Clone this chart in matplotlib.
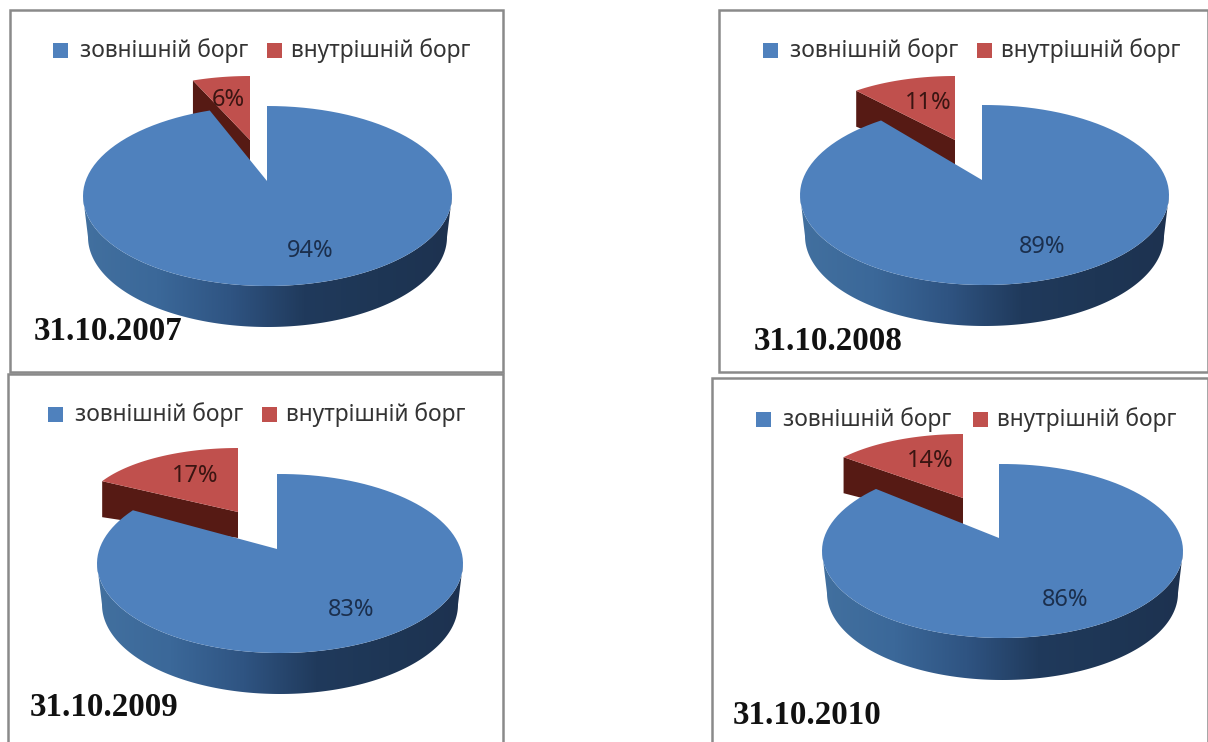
import numpy as np
import matplotlib
matplotlib.use('Agg')
import matplotlib.pyplot as plt
from matplotlib.colors import LinearSegmentedColormap
from matplotlib.patches import Polygon, Rectangle

# data
dates = ['31.10.2007', '31.10.2008', '31.10.2009', '31.10.2010']
external_debt = [94, 89, 83, 86]
internal_debt = [6, 11, 17, 14]
series_names = ['зовнішній борг', 'внутрішній борг']

# layout, in pixels of the 1208x742 picture
frames = [(10, 10, 503, 372), (719, 10, 1208, 372), (8, 374, 503, 745), (712, 378, 1208, 745)]
# ellipse cx, cy, rx, ry, apex x, apex y, depth
blue_geom = [(267.5, 196, 184.5, 90, 267, 181, 41),
             (984.5, 195, 184.5, 90, 982, 180, 41),
             (280, 563.5, 183, 89.5, 277, 549, 41),
             (1002.5, 551, 180.5, 87, 999, 538, 42)]
# red wedge centre x, y
red_centres = [(250, 140), (955, 140), (238, 512), (963, 498)]
red_rx, red_ry = 155, 64
ext_label_pos = [(310, 251), (1042, 247), (351, 610), (1065, 600)]
int_label_pos = [(228, 100), (928, 103), (195, 476), (930, 461)]
date_pos = [(34, 332), (754, 342), (30, 707), (733, 715)]
# legend: first square x, second square x, y
legend_pos = [(53, 267, 50), (763, 977, 50), (48, 262, 414), (756, 973, 419)]

BLUE = '#4f81bd'
RED = '#c0504d'
DARK_RED = '#561a14'
side_cmap = LinearSegmentedColormap.from_list(
    'side', ['#42709f', '#3b6899', '#2f5482', '#203a5c', '#1e3655', '#1d3250'])


def wedge_arc(cx, cy, rx, ry, start, share, n=120):
    # angles run clockwise from the top of the ellipse
    ang = np.radians(start + np.linspace(0, share, n) * 3.6)
    return cx + rx * np.sin(ang), cy - ry * np.cos(ang)


def rim_angle(cx, cy, rx, ry, apex_x, apex_y, share):
    # apex sits above the ellipse centre (perspective), so go along the ray from the apex
    a = np.radians(share * 3.6)
    d = np.array([np.sin(a), -np.cos(a)])
    p = np.array([(apex_x - cx) / rx, (apex_y - cy) / ry])
    t = -p @ d + np.sqrt((p @ d) ** 2 - p @ p + 1)
    u, v = p + t * d
    return np.degrees(np.arctan2(u, -v)) % 360


fig = plt.figure(figsize=(12.08, 7.42), dpi=100)
ax = fig.add_axes([0, 0, 1, 1])

for i in range(4):
    x0, y0, x1, y1 = frames[i]
    ax.add_patch(Rectangle((x0, y0), x1 - x0, y1 - y0, fc='white', ec='#8a8a8a', lw=1.8, zorder=1))

    cx, cy, rx, ry, ax_x, ax_y, depth = blue_geom[i]
    rcx, rcy = red_centres[i]

    # red slice: cut face below, top above
    xs, ys = wedge_arc(rcx, rcy, red_rx, red_ry, -internal_debt[i] * 3.6, internal_debt[i])
    wall = [(xs[0], ys[0]), (rcx, rcy), (rcx, rcy + 26), (xs[0], ys[0] + 36)]
    ax.add_patch(Polygon(wall, fc=DARK_RED, ec='none', zorder=2))
    ax.add_patch(Polygon(np.r_[np.c_[xs, ys], [[rcx, rcy]]], fc=RED, ec='none', zorder=3))

    # blue side wall, gradient clipped to the front rim
    t = np.radians(np.linspace(90, 270, 200))
    top_x, top_y = cx + rx * np.sin(t), cy - ry * np.cos(t)
    bot_x, bot_y = cx + (rx - 5) * np.sin(t), cy + depth - ry * np.cos(t)
    side = Polygon(np.r_[np.c_[top_x, top_y], np.c_[bot_x, bot_y][::-1]], fc='none', ec='none',
                   transform=ax.transData, zorder=4)
    ax.add_patch(side)
    im = ax.imshow(np.linspace(0, 1, 256).reshape(1, -1), cmap=side_cmap, aspect='auto',
                   extent=(cx - rx, cx + rx, cy + ry + depth, cy), zorder=4)
    im.set_clip_path(side)

    # blue top
    a0 = rim_angle(cx, cy, rx, ry, ax_x, ax_y, 0)
    a1 = rim_angle(cx, cy, rx, ry, ax_x, ax_y, external_debt[i])
    if a1 < a0:
        a1 += 360
    xs, ys = wedge_arc(cx, cy, rx, ry, a0, (a1 - a0) / 3.6)
    ax.add_patch(Polygon(np.r_[np.c_[xs, ys], [[ax_x, ax_y]]], fc=BLUE, ec='none', zorder=5))

    # labels
    ax.text(*ext_label_pos[i], f'{external_debt[i]}%', ha='center', va='center', fontsize=17,
            family='Noto Sans', color='#1b2f4d', zorder=6)
    ax.text(*int_label_pos[i], f'{internal_debt[i]}%', ha='center', va='center', fontsize=17,
            family='Noto Sans', color='#3a1512', zorder=6)
    ax.text(*date_pos[i], dates[i], ha='left', va='center', fontsize=23.8, fontweight='bold',
            family='Liberation Serif', color='#111111', zorder=6)

    # legend
    sq1, sq2, ly = legend_pos[i]
    ax.add_patch(Rectangle((sq1, ly - 7.5), 15, 15, fc=BLUE, ec='none', zorder=6))
    ax.add_patch(Rectangle((sq2, ly - 7.5), 15, 15, fc=RED, ec='none', zorder=6))
    ax.text(sq1 + 27, ly + 1, series_names[0], ha='left', va='center', fontsize=16.4,
            family='Noto Sans', color='#333333', zorder=6)
    ax.text(sq2 + 24, ly + 1, series_names[1], ha='left', va='center', fontsize=16.4,
            family='Noto Sans', color='#333333', zorder=6)

ax.set_xlim(0, 1208)
ax.set_ylim(742, 0)
ax.axis('off')
fig.savefig('out.png', dpi=100, facecolor='white')
